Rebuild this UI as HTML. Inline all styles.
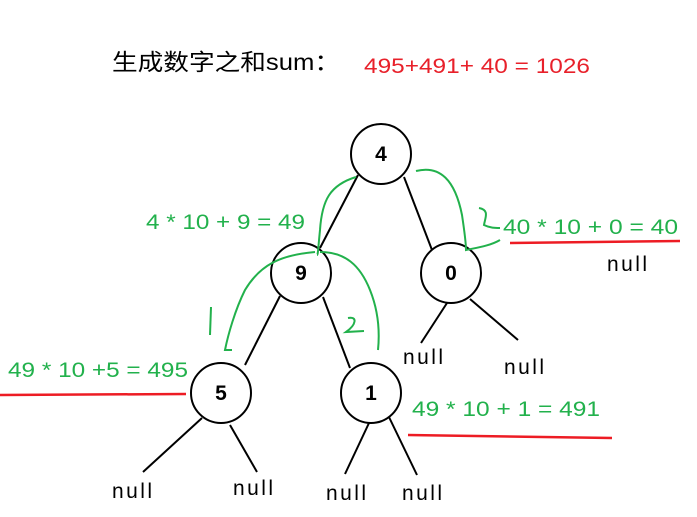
<!DOCTYPE html>
<html><head><meta charset="utf-8"><style>
html,body{margin:0;padding:0;background:#fff;}
svg{display:block;}
text{font-family:"Liberation Sans","Noto Sans CJK SC",sans-serif;}
</style></head><body>
<svg width="697" height="517" viewBox="0 0 697 517" xmlns="http://www.w3.org/2000/svg">
<text x="112" y="70" font-size="23" fill="#000" textLength="228" lengthAdjust="spacingAndGlyphs">生成数字之和sum：</text>
<text x="364" y="73" font-size="21" fill="#e8202a" textLength="226" lengthAdjust="spacingAndGlyphs">495+491+ 40 = 1026</text>
<g stroke="#000" stroke-width="2" fill="none">
<line x1="358" y1="175" x2="320" y2="248"/>
<line x1="404" y1="177" x2="432" y2="250"/>
<line x1="280" y1="296" x2="245" y2="365"/>
<line x1="323" y1="297" x2="350" y2="368"/>
<line x1="447" y1="303" x2="421" y2="343"/>
<line x1="470" y1="299" x2="518" y2="340"/>
<line x1="202" y1="418" x2="143" y2="472"/>
<line x1="230" y1="425" x2="257" y2="472"/>
<line x1="369" y1="423" x2="345" y2="474"/>
<line x1="388" y1="415" x2="417" y2="475"/>
</g>
<g stroke="#000" stroke-width="2" fill="#fff">
<circle cx="381" cy="154" r="30"/>
<circle cx="301" cy="273" r="30"/>
<circle cx="451" cy="273" r="30"/>
<circle cx="221" cy="393" r="30"/>
<circle cx="371" cy="393" r="30"/>
</g>
<g font-size="21" font-weight="bold" text-anchor="middle" fill="#000">
<text x="381" y="161">4</text><text x="301" y="280">9</text><text x="451" y="280">0</text>
<text x="221" y="400">5</text><text x="371" y="400">1</text>
</g>
<g font-size="21" fill="#000" lengthAdjust="spacingAndGlyphs">
<text x="607" y="271" textLength="40">null</text><text x="403" y="364" textLength="40">null</text><text x="504" y="374" textLength="40">null</text>
<text x="112" y="498" textLength="40">null</text><text x="233" y="495" textLength="40">null</text><text x="326" y="500" textLength="40">null</text><text x="402" y="500" textLength="40">null</text>
</g>
<g font-size="21" fill="#22b14c">
<text x="146" y="229" textLength="159" lengthAdjust="spacingAndGlyphs">4 * 10 + 9 = 49</text>
<text x="503" y="234" textLength="175" lengthAdjust="spacingAndGlyphs">40 * 10 + 0 = 40</text>
<text x="8" y="377" textLength="180" lengthAdjust="spacingAndGlyphs">49 * 10 +5 = 495</text>
<text x="412" y="416" textLength="188" lengthAdjust="spacingAndGlyphs">49 * 10 + 1 = 491</text>
</g>
<g stroke="#22b14c" stroke-width="2" fill="none">
<path d="M356,177 C330,185 322,200 320,230 C318,250 318,255 317,255"/>
<path d="M416,171 C440,165 455,180 462,215 C465,235 466,245 466,250 C475,248 490,246 500,240"/>
<path d="M479,208 C490,210 485,218 484,225 C490,228 495,228 500,228"/>
<path d="M315,252 C280,255 260,265 245,290 C235,310 228,335 225,350 L232,350"/>
<path d="M320,252 C345,252 360,265 370,290 C378,310 380,330 378,350"/>
<path d="M211,307 L210,335"/>
<path d="M348,318 C358,316 356,325 346,332 L364,331"/>
</g>
<g stroke="#ed1c24" stroke-width="2.5" fill="none">
<line x1="510" y1="243" x2="680" y2="241"/>
<line x1="0" y1="395" x2="186" y2="394"/>
<line x1="408" y1="435" x2="612" y2="438"/>
</g>
</svg>
</body></html>
